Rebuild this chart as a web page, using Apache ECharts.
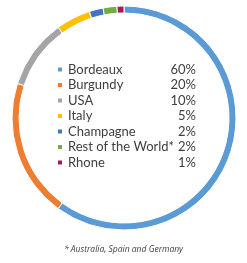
<!DOCTYPE html>
<html>
<head>
<meta charset="utf-8">
<script src="https://cdn.jsdelivr.net/npm/echarts@6/dist/echarts.min.js"></script>
<style>
  html, body { margin: 0; padding: 0; background: #fff; }
  #chart { width: 247px; height: 263px; }
</style>
</head>
<body>
<div id="chart"></div>
<script>
var regions = ['Bordeaux', 'Burgundy', 'USA', 'Italy', 'Champagne', 'Rest of the World*', 'Rhone'];
var shares = [60, 20, 10, 5, 2, 2, 1];
var colours = ['#5b9bd5', '#ed7d31', '#a5a5a5', '#ffc000', '#4472c4', '#70ad47', '#9e1c5c'];
var footnote = '* Australia, Spain and Germany';

var myChart = echarts.init(document.getElementById('chart'));

var pieData = regions.map(function (name, i) {
    return { name: name, value: shares[i] };
});

var txt = { fontFamily: 'Lato', fontSize: 13, color: '#404040' };

var option = {
    animation: false,
    color: colours,
    title: {
        text: footnote,
        left: 'center',
        top: 240,
        textStyle: {
            fontFamily: 'Open Sans',
            fontSize: 8.5,
            fontStyle: 'italic',
            fontWeight: 'normal',
            color: '#404040'
        }
    },
    legend: {
        orient: 'vertical',
        left: 51,
        top: 58,
        icon: 'rect',
        itemWidth: 6,
        itemHeight: 6,
        itemGap: 2.5,
        selectedMode: false,
        data: regions,
        formatter: function (name) {
            var i = regions.indexOf(name);
            return '{n|' + name + '}{p|' + shares[i] + '%}';
        },
        textStyle: {
            fontFamily: 'Lato',
            fontSize: 13,
            color: '#404040',
            rich: {
                n: Object.assign({ width: 103 }, txt),
                p: Object.assign({ width: 25, align: 'right' }, txt)
            }
        }
    },
    series: [{
        type: 'pie',
        center: [124, 118],
        radius: [105, 112],
        startAngle: 90,
        clockwise: true,
        label: { show: false },
        labelLine: { show: false },
        emphasis: { disabled: true },
        itemStyle: { borderColor: '#fff', borderWidth: 1 },
        data: pieData
    }]
};

myChart.setOption(option);
</script>
</body>
</html>
